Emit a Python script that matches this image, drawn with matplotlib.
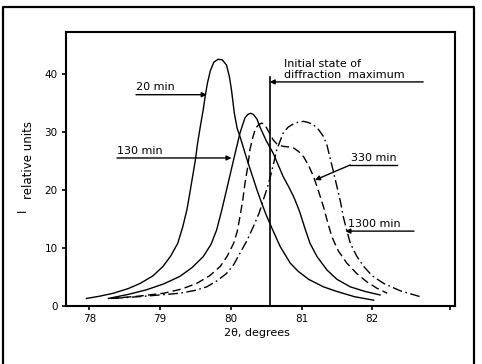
"""Diffraction maximum profiles at several annealing times."""
import matplotlib

matplotlib.use("Agg")
import matplotlib.pyplot as plt  # noqa: E402
from matplotlib.lines import Line2D  # noqa: E402

# 20 min profile (solid)
x_20 = [77.96, 78.15, 78.34, 78.55, 78.72, 78.90, 79.04, 79.15, 79.25, 79.32, 79.38,
        79.42, 79.46, 79.50, 79.53, 79.57, 79.61, 79.64, 79.67, 79.71, 79.76, 79.82,
        79.88, 79.94, 79.98, 80.01, 80.05, 80.09, 80.13, 80.18, 80.23, 80.30, 80.37,
        80.44, 80.51, 80.60, 80.70, 80.84, 80.95, 81.10, 81.31, 81.50, 81.75, 82.02]
y_20 = [1.3, 1.7, 2.2, 3.0, 3.9, 5.2, 6.8, 8.6, 10.8, 13.6, 16.6,
        19.4, 22.3, 25.2, 28.0, 31.0, 33.8, 36.3, 38.4, 40.5, 42.0, 42.5,
        42.4, 41.5, 39.5, 37.2, 33.2, 30.6, 29.2, 27.2, 25.2, 22.6, 20.0,
        17.6, 15.4, 12.9, 10.2, 7.4, 6.0, 4.6, 3.3, 2.5, 1.6, 1.0]

# 130 min profile (solid)
x_130 = [78.27, 78.55, 78.81, 79.05, 79.28, 79.45, 79.61, 79.72, 79.80, 79.87, 79.94,
         80.04, 80.13, 80.20, 80.24, 80.28, 80.32, 80.37, 80.41, 80.50, 80.60, 80.74,
         80.82, 80.89, 80.95, 80.98, 81.05, 81.12, 81.22, 81.36, 81.50, 81.69, 81.90,
         82.11]
y_130 = [1.3, 2.0, 2.8, 3.8, 5.1, 6.6, 8.5, 10.6, 13.1, 16.4, 20.0,
         25.2, 29.8, 32.4, 33.0, 33.2, 33.0, 32.2, 30.9, 28.5, 26.3, 22.3,
         20.5, 18.8, 17.0, 16.0, 13.3, 10.8, 8.5, 6.2, 4.6, 3.3, 2.5,
         1.9]

# 330 min profile (dashed)
x_330 = [78.30, 78.70, 79.05, 79.30, 79.52, 79.70, 79.85, 79.95, 80.04, 80.09, 80.13,
         80.17, 80.20, 80.24, 80.27, 80.31, 80.35, 80.40, 80.44, 80.48, 80.51, 80.56,
         80.60, 80.66, 80.74, 80.82, 80.89, 80.96, 81.03, 81.10, 81.17, 81.24, 81.31,
         81.37, 81.43, 81.52, 81.64, 81.78, 81.92, 82.06, 82.21]
y_330 = [1.3, 1.7, 2.2, 2.9, 3.9, 5.2, 6.8, 8.6, 10.8, 12.8, 15.4,
         18.3, 21.1, 24.0, 26.9, 29.0, 30.6, 31.3, 31.5, 31.2, 30.6, 29.5,
         28.6, 27.8, 27.5, 27.4, 27.2, 26.6, 25.7, 24.2, 22.3, 19.8, 17.1,
         14.4, 11.9, 9.5, 7.4, 5.6, 4.2, 3.1, 2.2]

# 1300 min profile (dash-dot)
x_1300 = [78.34, 78.80, 79.28, 79.50, 79.66, 79.80, 79.94, 80.04, 80.13, 80.23, 80.32,
          80.40, 80.46, 80.52, 80.56, 80.61, 80.65, 80.70, 80.74, 80.81, 80.89, 80.96,
          81.03, 81.10, 81.17, 81.24, 81.31, 81.36, 81.40, 81.45, 81.50, 81.55, 81.59,
          81.64, 81.69, 81.78, 81.88, 82.00, 82.16, 82.40, 82.68]
y_1300 = [1.3, 1.7, 2.2, 2.7, 3.3, 4.3, 5.6, 7.1, 9.1, 11.3, 13.7,
          16.0, 18.3, 20.5, 22.3, 24.8, 26.9, 28.5, 29.8, 30.8, 31.4, 31.7,
          31.8, 31.6, 31.2, 30.4, 29.2, 27.7, 25.7, 23.2, 20.6, 18.0, 15.4,
          13.0, 10.8, 8.6, 6.8, 5.2, 3.9, 2.6, 1.6]

initial_x = 80.55
initial_top = 39.5

x_ticks = [78, 79, 80, 81, 82, 83.1]
x_tick_labels = ["78", "79", "80", "81", "82", ""]
y_ticks = [0, 10, 20, 30, 40]

# label text, underline y, underline x-start, arrow tip (x, y)
labels = [
    ("20 min", 36.4, 78.66, (79.66, 36.4)),
    ("130 min", 25.5, 78.39, (80.01, 25.5)),
]

fig = plt.figure(figsize=(4.82, 3.64), dpi=100)
ax = fig.add_axes([66 / 482, 1 - 306 / 364, (455 - 66) / 482, (306 - 32) / 364])

ax.plot(x_20, y_20, color="black", lw=1.0)
ax.plot(x_130, y_130, color="black", lw=1.0)
ax.plot(x_330, y_330, color="black", lw=1.0, dashes=(6, 3))
ax.plot(x_1300, y_1300, color="black", lw=1.0, dashes=(7, 2.5, 1.2, 2.5))
ax.plot([initial_x, initial_x], [0, initial_top], color="black", lw=1.2)

arrow = dict(arrowstyle="-|>", color="black", lw=1.0, mutation_scale=7,
             shrinkA=0, shrinkB=0)
fs = 8

for text, yl, x0, tip in labels:
    ax.annotate("", xy=tip, xytext=(x0, yl), arrowprops=arrow)
    ax.text(x0, yl + 0.4, text, fontsize=fs, ha="left", va="bottom")

# initial state
ax.annotate("", xy=(initial_x, 38.6), xytext=(82.72, 38.6), arrowprops=arrow)
ax.text(80.75, 39.0, "Initial state of\ndiffraction  maximum", fontsize=fs,
        ha="left", va="bottom", linespacing=1.1)

# 330 min: underline, then a slanted leader
ax.plot([81.69, 82.35], [24.3, 24.3], color="black", lw=1.0)
ax.annotate("", xy=(81.19, 21.7), xytext=(81.69, 24.3), arrowprops=arrow)
ax.text(81.70, 24.7, "330 min", fontsize=fs, ha="left", va="bottom")

# 1300 min
ax.annotate("", xy=(81.62, 12.9), xytext=(82.59, 12.9), arrowprops=arrow)
ax.text(81.66, 13.3, "1300 min", fontsize=fs, ha="left", va="bottom")

ax.set_xlim(77.67, 83.17)
ax.set_ylim(0, 47.2)
ax.set_xticks(x_ticks, x_tick_labels)
ax.set_yticks(y_ticks)
ax.tick_params(direction="out", length=3, width=1.2, labelsize=7.5, pad=3)
for sp in ax.spines.values():
    sp.set_linewidth(1.5)

fig.text(257 / 482, 1 - 333 / 364, "2θ, degrees", fontsize=fs, ha="center", va="center")
fig.text(29 / 482, 1 - 160 / 364, "relative units", fontsize=8.5, rotation=90,
         ha="center", va="center")
fig.text(22 / 482, 1 - 210 / 364, "I", fontsize=8.5, rotation=90,
         ha="center", va="center")

# outer frame (bottom edge is cut off in the original)
fig.add_artist(Line2D([3 / 482, 3 / 482, 474 / 482, 474 / 482],
                      [0, 1 - 7 / 364, 1 - 7 / 364, 0],
                      transform=fig.transFigure, color="black", lw=1.6))

fig.savefig("out.png", dpi=100)
